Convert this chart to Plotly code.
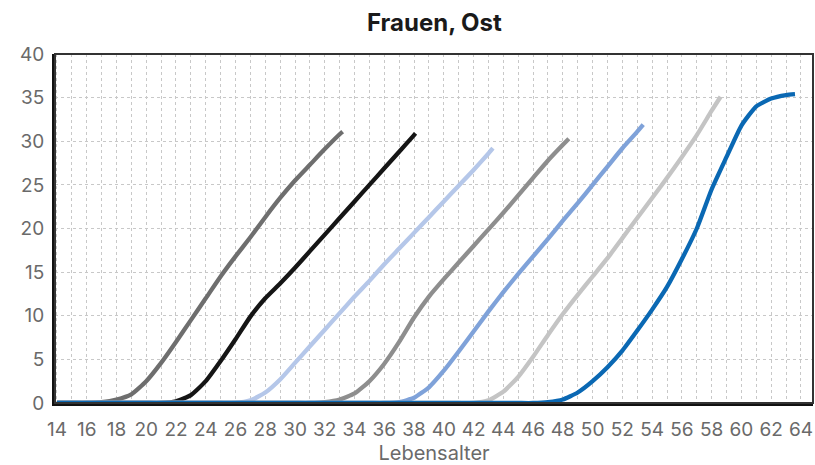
import plotly.graph_objects as go

# ---------------- data ----------------
title_text = "Frauen, Ost"
x_title = "Lebensalter"
x_tick_vals = list(range(14, 65, 2))
y_tick_vals = [0, 5, 10, 15, 20, 25, 30, 35, 40]

ages_1 = list(range(14, 34)) + [33.2]
vals_1 = [0, 0, 0, 0.1, 0.4, 1.0, 2.5, 4.6, 7.0, 9.5, 12.0, 14.5, 16.8, 19.0,
          21.3, 23.5, 25.5, 27.3, 29.1, 30.8, 31.1]

ages_2 = list(range(14, 39)) + [38.1]
vals_2 = [0, 0, 0, 0, 0, 0, 0, 0, 0.2, 0.9, 2.5, 4.8, 7.3, 9.9, 12.0, 13.7,
          15.5, 17.4, 19.3, 21.2, 23.1, 25.0, 26.9, 28.8, 30.7, 30.9]

ages_3 = list(range(14, 44)) + [43.3]
vals_3 = [0, 0, 0, 0, 0, 0, 0, 0, 0, 0, 0, 0, 0, 0.3, 1.2, 2.7, 4.6, 6.5, 8.4,
          10.3, 12.2, 14.0, 15.9, 17.7, 19.5, 21.3, 23.1, 24.9, 26.7, 28.6, 29.2]

ages_4 = list(range(14, 49)) + [48.4]
vals_4 = [0, 0, 0, 0, 0, 0, 0, 0, 0, 0, 0, 0, 0, 0, 0, 0, 0, 0, 0.1, 0.4, 1.1,
          2.5, 4.5, 7.0, 9.8, 12.2, 14.2, 16.1, 18.0, 19.9, 21.8, 23.8, 25.8,
          27.8, 29.6, 30.3]

ages_5 = list(range(14, 54)) + [53.4]
vals_5 = [0, 0, 0, 0, 0, 0, 0, 0, 0, 0, 0, 0, 0, 0, 0, 0, 0, 0, 0, 0, 0, 0, 0,
          0.1, 0.6, 1.8, 3.7, 5.9, 8.2, 10.5, 12.7, 14.8, 16.8, 18.8, 20.9,
          22.9, 25.0, 27.1, 29.2, 31.1, 31.9]

ages_6 = list(range(14, 59)) + [58.6]
vals_6 = [0, 0, 0, 0, 0, 0, 0, 0, 0, 0, 0, 0, 0, 0, 0, 0, 0, 0, 0, 0, 0, 0, 0,
          0, 0, 0, 0, 0, 0, 0.3, 1.3, 3.0, 5.3, 7.8, 10.2, 12.4, 14.5, 16.6,
          18.9, 21.2, 23.5, 25.8, 28.2, 30.7, 33.5, 35.1]

ages_7 = list(range(14, 64)) + [63.6]
vals_7 = [0, 0, 0, 0, 0, 0, 0, 0, 0, 0, 0, 0, 0, 0, 0, 0, 0, 0, 0, 0, 0, 0, 0,
          0, 0, 0, 0, 0, 0, 0, 0, 0, 0, 0.1, 0.4, 1.2, 2.5, 4.1, 6.0, 8.3,
          10.7, 13.3, 16.5, 20.0, 24.5, 28.2, 31.8, 34.0, 34.9, 35.3, 35.4]

series = [
    (ages_1, vals_1, "#6e6e6e"),
    (ages_2, vals_2, "#151515"),
    (ages_3, vals_3, "#b5c7e9"),
    (ages_4, vals_4, "#8e8e8e"),
    (ages_5, vals_5, "#7fa2d9"),
    (ages_6, vals_6, "#c4c4c4"),
    (ages_7, vals_7, "#0a68b3"),
]

# ---------------- figure ----------------
fig = go.Figure()
for ages, vals, color in series:
    fig.add_trace(go.Scatter(
        x=ages, y=vals, mode="lines",
        line=dict(color=color, width=4.3, shape="spline", smoothing=0.5),
        showlegend=False, hoverinfo="skip",
    ))

font_family = "Inter, Liberation Sans, Arial, sans-serif"
label_color = "#6a6a6a"
grid_color = "#c8c8c8"

fig.update_layout(
    width=815, height=465,
    margin=dict(l=55, r=2, t=54, b=62),
    paper_bgcolor="white", plot_bgcolor="white",
    title=dict(text=f"<b>{title_text}</b>", x=0.533, xanchor="center",
               y=0.952, yanchor="middle",
               font=dict(family=font_family, size=24, color="#1a1a1a")),
    font=dict(family=font_family, color=label_color),
    hovermode=False,
)

fig.update_xaxes(
    range=[13.87, 64.81],
    automargin=False,
    tickmode="array", tickvals=x_tick_vals,
    ticktext=[str(v) for v in x_tick_vals],
    tickfont=dict(size=19, color=label_color),
    ticks="", ticklabelstandoff=7,
    showgrid=True, gridcolor=grid_color, griddash="dot", gridwidth=1,
    minor=dict(dtick=1, tick0=14, showgrid=True, gridcolor=grid_color,
               griddash="dot", gridwidth=1),
    showline=True, linecolor="#111111", linewidth=3, mirror=False,
    zeroline=False,
    title=dict(text=x_title, standoff=1,
               font=dict(size=20, color=label_color)),
)

fig.update_yaxes(
    range=[0, 40],
    automargin=False,
    tickmode="array", tickvals=y_tick_vals,
    tickfont=dict(size=19, color=label_color),
    ticks="", ticklabelstandoff=4,
    showgrid=True, gridcolor=grid_color, griddash="dot", gridwidth=1,
    showline=True, linecolor="#111111", linewidth=3, mirror=False,
    zeroline=False,
)

# top/right frame of the plot area
fig.add_shape(type="rect", xref="paper", yref="paper", x0=0, y0=0, x1=1, y1=1,
              line=dict(color="#333333", width=2), fillcolor="rgba(0,0,0,0)",
              layer="above")

fig.write_html("out.html", config={"displayModeBar": False},
               post_script="document.body.style.margin='0';")
